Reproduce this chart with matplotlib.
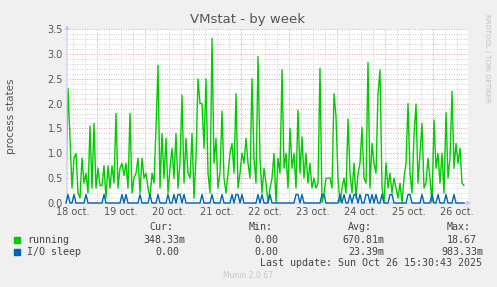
import numpy as np
import matplotlib
matplotlib.use("Agg")
import matplotlib.pyplot as plt

# hourly samples, first one at 18 oct 08:30 (hours since 18 oct 00:00)
start_hour = 8.5

running = [
    0.40, 2.30, 1.30, 0.30, 0.90, 1.00, 0.20, 0.10, 0.90, 0.40,
    0.60, 0.20, 1.55, 0.30, 1.60, 0.30, 0.70, 0.35, 0.35, 0.75,
    0.10, 0.75, 0.30, 0.75, 0.40, 1.80, 0.30, 0.70, 0.80, 0.55,
    0.80, 0.30, 1.80, 0.20, 0.50, 0.60, 0.90, 0.20, 0.90, 0.50,
    0.60, 0.30, 0.10, 0.60, 0.40, 1.50, 2.77, 0.30, 1.40, 0.50,
    1.30, 0.20, 0.70, 1.10, 0.50, 1.40, 0.30, 0.80, 2.17, 0.40,
    1.30, 0.60, 0.50, 1.40, 0.10, 0.90, 2.50, 2.00, 2.00, 1.10,
    2.50, 0.60, 0.20, 3.31, 0.80, 1.30, 0.30, 0.60, 1.85, 0.50,
    0.20, 0.60, 1.00, 1.20, 0.60, 2.20, 0.30, 0.60, 1.00, 0.80,
    1.30, 0.80, 0.50, 2.50, 0.90, 0.40, 2.95, 0.90, 0.20, 0.70,
    0.40, 0.00, 0.30, 0.50, 1.00, 0.00, 0.90, 0.60, 2.68, 0.70,
    1.00, 0.30, 1.50, 0.70, 1.00, 0.30, 1.87, 0.60, 1.33, 0.50,
    1.00, 0.40, 0.80, 0.30, 0.50, 0.30, 0.40, 2.71, 0.00, 0.20,
    0.50, 0.50, 0.50, 0.30, 2.20, 1.74, 0.50, 0.00, 0.30, 0.50,
    0.20, 1.69, 0.60, 0.20, 0.80, 0.10, 0.60, 0.80, 1.52, 0.50,
    0.40, 2.83, 0.30, 1.20, 0.80, 0.60, 2.20, 2.68, 0.30, 0.00,
    0.80, 0.30, 0.60, 0.20, 0.50, 0.30, 0.10, 0.40, 0.00, 0.50,
    0.80, 2.00, 0.60, 0.20, 1.37, 1.99, 0.40, 1.00, 1.60, 0.30,
    0.40, 0.90, 0.50, 0.00, 1.67, 0.70, 1.00, 0.40, 1.00, 0.20,
    1.82, 0.50, 0.90, 2.25, 0.70, 1.20, 0.80, 1.10, 0.40, 0.35,
]

io_sleep = [
    0, .17, 0, 0, .17, 0, 0, 0, 0, 0,
    .17, 0, 0, 0, 0, 0, 0, 0, 0, .17,
    0, 0, 0, 0, 0, 0, 0, 0, .17, 0,
    .17, 0, 0, 0, 0, 0, 0, .17, 0, 0,
    0, 0, .17, 0, 0, 0, .17, 0, 0, 0,
    0, .17, 0, 0, .17, 0, .17, .17, 0, .17,
    0, 0, 0, 0, 0, 0, 0, 0, .17, 0,
    0, 0, 0, .17, 0, 0, 0, 0, .17, 0,
    0, 0, 0, .17, 0, .17, .17, 0, .17, 0,
    0, 0, 0, 0, 0, 0, .17, 0, .17, 0,
    0, 0, .17, 0, 0, 0, 0, 0, 0, 0,
    0, 0, 0, 0, 0, .17, .17, 0, .17, 0,
    0, 0, 0, 0, 0, 0, 0, 0, .17, .17,
    0, 0, 0, 0, 0, 0, 0, .17, 0, .17,
    0, 0, .17, 0, .17, .17, 0, .17, 0, 0,
    .17, .17, 0, .17, 0, .17, 0, 0, .17, 0,
    0, 0, .17, .17, 0, 0, 0, 0, 0, 0,
    0, .17, .17, 0, 0, 0, 0, 0, .17, 0,
    0, 0, 0, .17, 0, 0, .17, 0, 0, 0,
    .17, 0, 0, 0, .17, 0, 0, 0, 0, 0,
]

day_labels = ["18 oct.", "19 oct.", "20 oct.", "21 oct.", "22 oct.",
              "23 oct.", "24 oct.", "25 oct.", "26 oct."]

legend_names = ["running", "I/O sleep"]
legend_cur = ["348.33m", "0.00"]
legend_min = ["0.00", "0.00"]
legend_avg = ["670.81m", "23.39m"]
legend_max = ["18.67", "983.33m"]
colors = ["#00CC00", "#0066B3"]

W, H = 497, 287
fig = plt.figure(figsize=(W / 100, H / 100), dpi=100, facecolor="#F0F0F0")

x0, x1, ytop, ybot = 67, 468, 29, 203
ax = fig.add_axes([x0 / W, 1 - ybot / H, (x1 - x0) / W, (ybot - ytop) / H])
ax.set_facecolor("white")
for s in ax.spines.values():
    s.set_visible(False)

hours = start_hour + np.arange(len(running))
ax.set_xlim(9, 9 + (x1 - x0) / 2)
ax.set_ylim(0, 3.5)

# grid: gray minor, red major
for h in np.arange(12, 210, 6):
    c = "#E5A0A0" if h % 24 == 0 else "#CFCFCF"
    ax.axvline(h, color=c, lw=0.7, ls=(0, (1, 1.5)), zorder=1)
for v in np.arange(0.1, 3.55, 0.1):
    c = "#E5A0A0" if abs(v * 2 - round(v * 2)) < 1e-6 else "#CFCFCF"
    ax.axhline(v, color=c, lw=0.7, ls=(0, (1, 1.5)), zorder=1)

ax.plot(hours, running, color=colors[0], lw=1.0, zorder=3)
ax.plot(hours, io_sleep, color=colors[1], lw=1.0, zorder=4, clip_on=False)

ax.set_xticks(12 + 24 * np.arange(len(day_labels)))
ax.set_xticklabels(day_labels)
ax.set_yticks(np.arange(0, 3.51, 0.5))
ax.set_yticklabels([f"{v:.1f}" for v in np.arange(0, 3.51, 0.5)])
ax.tick_params(length=0, labelsize=7, colors="#555555", pad=3)
ax.set_ylabel("process states", fontsize=7.5, color="#555555")
ax.yaxis.set_label_coords((16 - x0) / (x1 - x0), 0.5)

# axis lines with arrows
ax.annotate("", xy=(0, 1.04), xytext=(0, 0), xycoords="axes fraction",
            arrowprops=dict(arrowstyle="-|>", color="#C8C8F0", lw=0.8,
                            mutation_scale=6), annotation_clip=False)
ax.annotate("", xy=(1.015, 0), xytext=(0, 0), xycoords="axes fraction",
            arrowprops=dict(arrowstyle="-|>", color="#C8C8F0", lw=0.8,
                            mutation_scale=6), annotation_clip=False)

fig.text(248 / W, 1 - 19 / H, "VMstat - by week", ha="center", va="center",
         fontsize=9.5, color="#555555")
fig.text(487 / W, 1 - 58 / H, "RRDTOOL / TOBI OETIKER", ha="center",
         va="center", rotation=270, fontsize=5, color="#C0C0C0")

mono = dict(family="DejaVu Sans Mono", fontsize=7.2, color="#444444",
            va="center", ha="left")


def ftext(px, py, s, **kw):
    fig.text(px / W, 1 - py / H, s, **kw)


ftext(149, 227, "Cur:", **mono)
ftext(249, 227, "Min:", **mono)
ftext(348, 227, "Avg:", **mono)
ftext(447, 227, "Max:", **mono)
rows_y = [240, 252]
for k, name in enumerate(legend_names):
    y = rows_y[k]
    fig.patches.append(plt.Rectangle((14 / W, 1 - (y + 3) / H), 6 / W, 6 / H,
                                     transform=fig.transFigure,
                                     color=colors[k], figure=fig))
    ftext(27, y, name, **mono)
    for right, val in zip([185, 284, 384, 483],
                          [legend_cur[k], legend_min[k], legend_avg[k], legend_max[k]]):
        pad = 0 if val.endswith("m") else 6
        ftext(right - pad, y, val, **{**mono, "ha": "right"})
ftext(482, 263, "Last update: Sun Oct 26 15:30:43 2025", **{**mono, "ha": "right"})
ftext(248, 276, "Munin 2.0.67", ha="center", va="center", fontsize=5.5,
      color="#C8C8C8")

fig.savefig("out.png", dpi=100, facecolor=fig.get_facecolor())
